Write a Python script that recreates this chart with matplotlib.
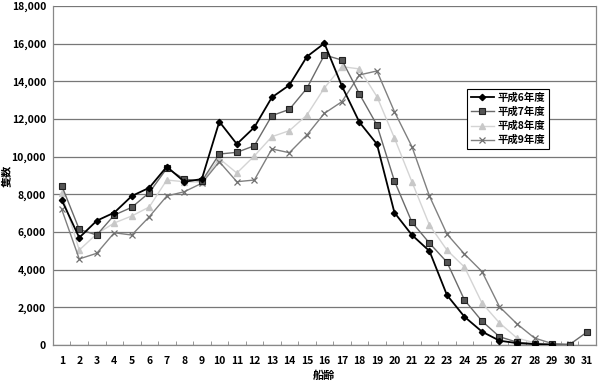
import matplotlib
matplotlib.use("Agg")
import matplotlib.pyplot as plt
from matplotlib.ticker import FuncFormatter, MultipleLocator

plt.rcParams['font.family'] = ['Noto Sans CJK JP', 'DejaVu Sans']

ages = list(range(1, 32))
labels = ['平成6年度', '平成7年度', '平成8年度', '平成9年度']

h6 = [7700, 5700, 6600, 7030, 7910, 8350, 9470, 8670, 8810, 11860, 10670, 11560,
      13150, 13800, 15310, 16020, 13750, 11830, 10670, 7030, 5840, 4990, 2650, 1500,
      710, 230, 100, 50, 20]
h7 = [8460, 6140, 5840, 6900, 7310, 8090, 9380, 8810, 8700, 10140, 10230, 10580,
      12180, 12510, 13630, 15400, 15130, 13330, 11680, 8710, 6520, 5410, 4400, 2390,
      1270, 440, 150, 60, 30, 20, 690]
h8 = [8070, 5040, 5900, 6480, 6850, 7330, 8760, 8670, 8650, 9900, 9130, 10040,
      11060, 11380, 12210, 13650, 14780, 14660, 13190, 10990, 8660, 6370, 5040, 4140,
      2230, 1170, 370, 120, 30, 30]
h9 = [7200, 4570, 4870, 5960, 5840, 6810, 7910, 8140, 8590, 9730, 8670, 8760,
      10410, 10210, 11150, 12300, 12920, 14340, 14550, 12390, 10530, 7910, 5890, 4830,
      3900, 2030, 1120, 370, 80, 30]

fig = plt.figure(figsize=(6.0, 3.87), dpi=100)
ax = fig.add_axes([0.0883, 0.1085, 0.9047, 0.876])

ax.plot(ages[:len(h6)], h6, color='black', lw=1.3, marker='D', ms=3.2,
        mfc='black', mec='black', label=labels[0], zorder=5)
ax.plot(ages[:len(h7)], h7, color='#6a6a6a', lw=1.0, marker='s', ms=4.2,
        mfc='#555555', mec='#222222', mew=0.8, label=labels[1], zorder=4)
ax.plot(ages[:len(h8)], h8, color='#d4d4d4', lw=1.0, marker='^', ms=4,
        mfc='#c8c8c8', mec='#c8c8c8', label=labels[2], zorder=3)
ax.plot(ages[:len(h9)], h9, color='#808080', lw=1.0, marker='x', ms=4.5,
        mec='#707070', mew=0.9, label=labels[3], zorder=3)

ax.set_xlim(0.5, 31.5)
ax.set_ylim(0, 18000)
ax.yaxis.set_major_locator(MultipleLocator(2000))
ax.yaxis.set_major_formatter(FuncFormatter(lambda v, p: f'{int(v):,}'))
ax.set_xticks(ages)
ax.set_xticklabels([str(a) for a in ages])
ax.set_xticks([a + 0.5 for a in range(0, 31)], minor=True)
ax.tick_params(axis='x', which='major', length=0, pad=8, labelsize=7.5)
ax.tick_params(axis='x', which='minor', length=3, direction='in', color='#888888')
ax.tick_params(axis='y', length=0, pad=5, labelsize=7.5)
for lab in ax.get_xticklabels() + ax.get_yticklabels():
    lab.set_fontweight('bold')

ax.grid(axis='y', color='#777777', lw=0.9)
ax.set_axisbelow(True)
for s in ['left', 'bottom', 'right']:
    ax.spines[s].set_color('#888888')
    ax.spines[s].set_linewidth(0.9)
ax.spines['top'].set_visible(False)

ax.set_ylabel('隻数', fontsize=8, fontweight='bold')
ax.yaxis.set_label_coords(-0.072, 0.5)
ax.set_xlabel('船齢', fontsize=8, fontweight='bold', labelpad=2)

leg = ax.legend(loc='upper left', bbox_to_anchor=(0.763, 0.755), fontsize=7.5,
                frameon=True, fancybox=False, edgecolor='black', framealpha=1,
                borderpad=0.35, labelspacing=0.35, handlelength=2.2,
                handletextpad=0.4, borderaxespad=0)
leg.get_frame().set_linewidth(0.8)
for t in leg.get_texts():
    t.set_fontweight('bold')

fig.savefig('out.png', dpi=100)
